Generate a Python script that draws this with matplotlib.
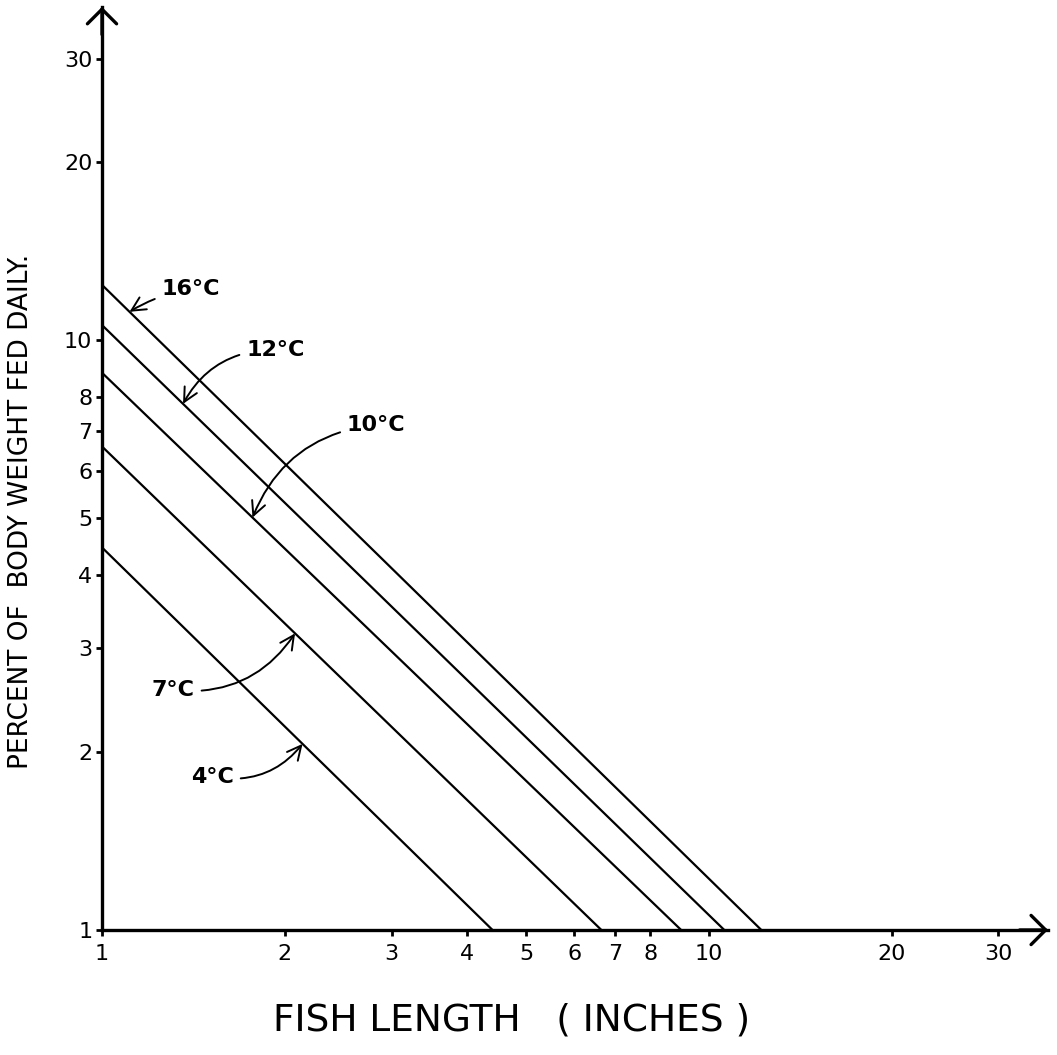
import numpy as np
import matplotlib
matplotlib.use("Agg")
import matplotlib.pyplot as plt
from matplotlib.ticker import FixedLocator, NullLocator

# water temperature curves: y at x=1 and x where y reaches 1
temps = ["16°C", "12°C", "10°C", "7°C", "4°C"]
pct_at_1in = [12.4, 10.6, 8.8, 6.6, 4.45]
length_at_1pct = [12.2, 10.6, 9.0, 6.65, 4.4]

x_ticks = [1, 2, 3, 4, 5, 6, 7, 8, 10, 20, 30]
x_ticklabels = ["1", "2", "3", "4", "5", "6", "7", "8", "10", "20", "30"]
y_ticks = [1, 2, 3, 4, 5, 6, 7, 8, 10, 20, 30]
y_ticklabels = ["1", "2", "3", "4", "5", "6", "7", "8", "10", "20", "30"]

# where each label sits and which fish length its arrow points to
label_pos = [(1.40, 12.2), (1.93, 9.62), (2.83, 7.18), (1.31, 2.55), (1.52, 1.82)]
arrow_x = [1.11, 1.36, 1.77, 2.08, 2.14]
arrow_rad = [0.1, 0.3, 0.3, 0.3, 0.3]


def line_y(x, y0, x1):
    # straight line on log-log paper through (1, y0) and (x1, 1)
    return 10 ** (np.log10(y0) * (1 - np.log10(x) / np.log10(x1)))


fig = plt.figure(figsize=(10.57, 10.55), dpi=100)
ax = fig.add_axes([0.0965, 0.1185, 0.895, 0.875])
ax.set_xscale("log")
ax.set_yscale("log")
ax.set_xlim(1, 36.2)
ax.set_ylim(1, 36.7)

for y0, x1 in zip(pct_at_1in, length_at_1pct):
    ax.plot([1, x1], [y0, 1], color="black", lw=1.6, solid_capstyle="butt")

for name, (tx, ty), ax_x, rad, y0, x1 in zip(temps, label_pos, arrow_x, arrow_rad,
                                             pct_at_1in, length_at_1pct):
    ax.annotate(name, xy=(ax_x, line_y(ax_x, y0, x1)), xytext=(tx, ty),
                ha="center", va="center", fontsize=16, fontweight="bold",
                arrowprops=dict(arrowstyle="->, head_length=0.5, head_width=0.25",
                                connectionstyle=f"arc3,rad={rad}",
                                lw=1.4, color="black", shrinkA=3, shrinkB=0,
                                mutation_scale=20))

for side in ["top", "right"]:
    ax.spines[side].set_visible(False)
for side in ["left", "bottom"]:
    ax.spines[side].set_linewidth(2.4)

# open arrow heads at the axis ends
head = dict(arrowstyle="->, head_length=0.35, head_width=0.35",
            lw=2.4, color="black", mutation_scale=30, shrinkA=0, shrinkB=0)
ax.annotate("", xy=(1.0, 0), xycoords="axes fraction", xytext=(0.97, 0),
            arrowprops=head, annotation_clip=False)
ax.annotate("", xy=(0, 1.0), xycoords="axes fraction", xytext=(0, 0.97),
            arrowprops=head, annotation_clip=False)

ax.xaxis.set_major_locator(FixedLocator(x_ticks))
ax.yaxis.set_major_locator(FixedLocator(y_ticks))
ax.xaxis.set_minor_locator(NullLocator())
ax.yaxis.set_minor_locator(NullLocator())
ax.set_xticklabels(x_ticklabels)
ax.set_yticklabels(y_ticklabels)
ax.tick_params(axis="both", direction="out", length=4, width=2, labelsize=16)
ax.tick_params(axis="x", pad=6)
ax.tick_params(axis="y", pad=3)

ax.set_ylabel("PERCENT OF  BODY WEIGHT FED DAILY.", fontsize=19)
ax.yaxis.set_label_coords(-0.072, 0.453)
fig.text(512 / 1057, 1 - 1020 / 1055, "FISH LENGTH   ( INCHES )",
         fontsize=27, ha="center", va="center")

fig.savefig("out.png", dpi=100)
